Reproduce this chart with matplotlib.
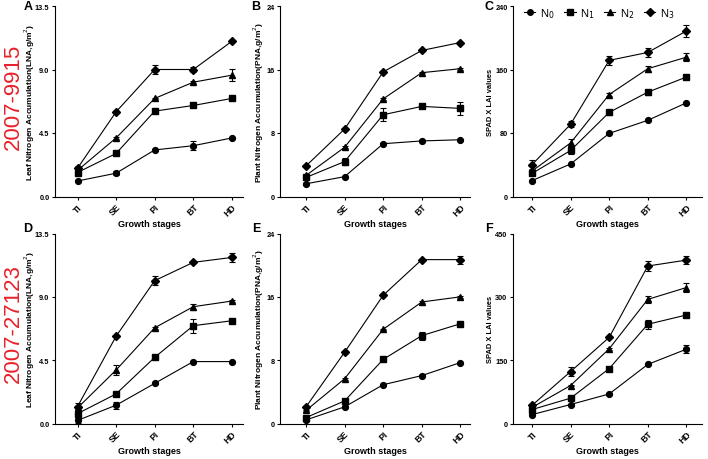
import matplotlib
matplotlib.use('Agg')
import matplotlib.pyplot as plt
from matplotlib.lines import Line2D

plt.rcParams['font.family'] = ['Liberation Sans', 'DejaVu Sans']

stages = ['TI', 'SE', 'PI', 'BT', 'HD']
series_labels = ['N$_0$', 'N$_1$', 'N$_2$', 'N$_3$']
markers = ['o', 's', '^', 'D']

# ---- Panel A: LNA 2007-9915
A_N0 = [1.1, 1.65, 3.3, 3.6, 4.15]
A_N1 = [1.7, 3.05, 6.05, 6.45, 6.95]
A_N2 = [1.85, 4.15, 6.95, 8.1, 8.6]
A_N3 = [2.0, 6.0, 9.0, 9.0, 11.0]
A_E0 = [0.1, 0.15, 0.05, 0.3, 0.05]
A_E1 = [0.05, 0.05, 0.05, 0.05, 0.05]
A_E2 = [0.05, 0.05, 0.05, 0.05, 0.45]
A_E3 = [0.15, 0.05, 0.35, 0.2, 0.05]

# ---- Panel B: PNA 2007-9915
B_N0 = [1.6, 2.5, 6.65, 7.0, 7.15]
B_N1 = [2.4, 4.4, 10.3, 11.35, 11.1]
B_N2 = [2.65, 6.2, 12.3, 15.6, 16.1]
B_N3 = [3.85, 8.5, 15.7, 18.4, 19.4]
B_E0 = [0.1, 0.1, 0.1, 0.1, 0.1]
B_E1 = [0.2, 0.4, 0.8, 0.2, 0.8]
B_E2 = [0.1, 0.1, 0.1, 0.1, 0.1]
B_E3 = [0.1, 0.1, 0.1, 0.1, 0.1]

# ---- Panel C: SPAD x LAI 2007-9915
C_N0 = [20, 41, 79.5, 96, 118]
C_N1 = [29, 58, 106, 131.5, 150.5]
C_N2 = [32, 67.5, 128.5, 161, 175.5]
C_N3 = [40, 91, 171.5, 181.5, 208.5]
C_E0 = [1, 1, 1, 1, 1]
C_E1 = [2, 4, 3, 3, 3]
C_E2 = [3, 5, 2, 4, 5]
C_E3 = [6, 4, 6, 6, 7]

# ---- Panel D: LNA 2007-27123
D_N0 = [0.22, 1.3, 2.85, 4.4, 4.4]
D_N1 = [0.7, 2.1, 4.7, 6.95, 7.3]
D_N2 = [1.1, 3.8, 6.8, 8.3, 8.7]
D_N3 = [1.2, 6.2, 10.15, 11.45, 11.8]
D_E0 = [0.15, 0.25, 0.05, 0.05, 0.05]
D_E1 = [0.05, 0.05, 0.05, 0.5, 0.05]
D_E2 = [0.05, 0.35, 0.05, 0.2, 0.05]
D_E3 = [0.25, 0.05, 0.3, 0.05, 0.35]

# ---- Panel E: PNA 2007-27123
E_N0 = [0.45, 2.1, 4.9, 6.05, 7.7]
E_N1 = [0.75, 2.85, 8.1, 11.1, 12.6]
E_N2 = [1.65, 5.65, 11.9, 15.35, 16.0]
E_N3 = [2.1, 9.0, 16.2, 20.7, 20.7]
E_E0 = [0.1, 0.1, 0.1, 0.1, 0.1]
E_E1 = [0.1, 0.3, 0.1, 0.5, 0.1]
E_E2 = [0.1, 0.1, 0.1, 0.1, 0.1]
E_E3 = [0.1, 0.1, 0.1, 0.1, 0.5]

# ---- Panel F: SPAD x LAI 2007-27123
F_N0 = [21, 45, 70, 140, 176]
F_N1 = [33, 60, 130, 235, 257]
F_N2 = [38, 90, 177, 294, 322]
F_N3 = [43, 123, 204, 373, 387]
F_E0 = [2, 2, 2, 2, 10]
F_E1 = [2, 2, 2, 10, 2]
F_E2 = [2, 2, 2, 8, 10]
F_E3 = [2, 10, 2, 12, 9]

panels = [
    ('A', [A_N0, A_N1, A_N2, A_N3], [A_E0, A_E1, A_E2, A_E3], 13.5, [0, 4.5, 9.0, 13.5], '{:.1f}',
     'Leaf Nitrogen Accumulation(LNA,g/m$^2$)'),
    ('B', [B_N0, B_N1, B_N2, B_N3], [B_E0, B_E1, B_E2, B_E3], 24, [0, 8, 16, 24], '{:.0f}',
     'Plant Nitrogen Accumulation(PNA,g/m$^2$)'),
    ('C', [C_N0, C_N1, C_N2, C_N3], [C_E0, C_E1, C_E2, C_E3], 240, [0, 80, 160, 240], '{:.0f}',
     'SPAD X LAI values'),
    ('D', [D_N0, D_N1, D_N2, D_N3], [D_E0, D_E1, D_E2, D_E3], 13.5, [0, 4.5, 9.0, 13.5], '{:.1f}',
     'Leaf Nitrogen Accumulation(LNA,g/m$^2$)'),
    ('E', [E_N0, E_N1, E_N2, E_N3], [E_E0, E_E1, E_E2, E_E3], 24, [0, 8, 16, 24], '{:.0f}',
     'Plant Nitrogen Accumulation(PNA,g/m$^2$)'),
    ('F', [F_N0, F_N1, F_N2, F_N3], [F_E0, F_E1, F_E2, F_E3], 450, [0, 150, 300, 450], '{:.0f}',
     'SPAD X LAI values'),
]

W, H = 708, 460
fig = plt.figure(figsize=(W / 100, H / 100), dpi=100)

# layout in pixels
col_left = [55, 280, 513]
col_right = [243, 470, 702]
col_first_tick = [77.5, 306, 532]
tick_step = 38.6
row_top = [7, 234.5]
row_bottom = [197.5, 424.5]
ylabel_x = [37, 265.5, 494]
letter_x = [28, 256, 489]
letter_y = [7, 229]

axes = []
for i, (letter, series, errs, ymax, yticks, fmt, ylab) in enumerate(panels):
    r, c = divmod(i, 3)
    L, R = col_left[c], col_right[c]
    T, B = row_top[r], row_bottom[r]
    ax = fig.add_axes([L / W, 1 - B / H, (R - L) / W, (B - T) / H])
    axes.append(ax)
    x = list(range(len(stages)))
    for k, (vals, e) in enumerate(zip(series, errs)):
        ms = 4.2 if markers[k] != 'D' else 3.9
        ax.errorbar(x, vals, yerr=e, marker=markers[k], color='black', markersize=ms,
                    linewidth=0.8, elinewidth=0.8, capsize=2.2, capthick=0.8,
                    label=series_labels[k])
    x0 = -(col_first_tick[c] - L) / tick_step
    x1 = (R - col_first_tick[c]) / tick_step
    ax.set_xlim(x0, x1)
    ax.set_ylim(0, ymax)
    ax.set_xticks(x)
    ax.set_xticklabels(stages, rotation=45, ha='right', rotation_mode='anchor',
                       fontsize=6.3, fontweight='bold')
    ax.set_yticks(yticks)
    ax.set_yticklabels([fmt.format(v) for v in yticks], fontsize=5.3, fontweight='bold')
    for s in ['top', 'right']:
        ax.spines[s].set_visible(False)
    for s in ['left', 'bottom']:
        ax.spines[s].set_linewidth(0.8)
    ax.tick_params(direction='out', length=2.5, width=0.8, pad=1.5)
    ax.set_xlabel('Growth stages', fontsize=6.5, fontweight='bold', labelpad=1)
    fs = 5.4 if 'SPAD' in ylab else 6.0
    ax.set_ylabel(ylab, fontsize=fs, fontweight='bold')
    ax.yaxis.set_label_coords((ylabel_x[c] - L) / (R - L), 0.5)
    fig.text(letter_x[c] / W, 1 - letter_y[r] / H, letter, fontsize=9, fontweight='bold',
             ha='center', va='center')

# legend on panel C
handles = [Line2D([], [], color='black', marker=m, markersize=(4.0 if m != 'D' else 3.7),
                  linewidth=0.8) for m in markers]
axes[2].legend(handles, series_labels, loc='center left', bbox_to_anchor=(0.06, 0.965), ncol=4,
               frameon=False, fontsize=8, handlelength=1.0, handletextpad=0.4,
               columnspacing=0.9, borderaxespad=0, borderpad=0)

red = '#e8202a'
fig.text(13 / W, 1 - 97 / H, '2007-9915', rotation=90, color=red, fontsize=16,
         ha='center', va='center')
fig.text(13 / W, 1 - 324 / H, '2007-27123', rotation=90, color=red, fontsize=16,
         ha='center', va='center')

fig.savefig('out.png', dpi=100)
